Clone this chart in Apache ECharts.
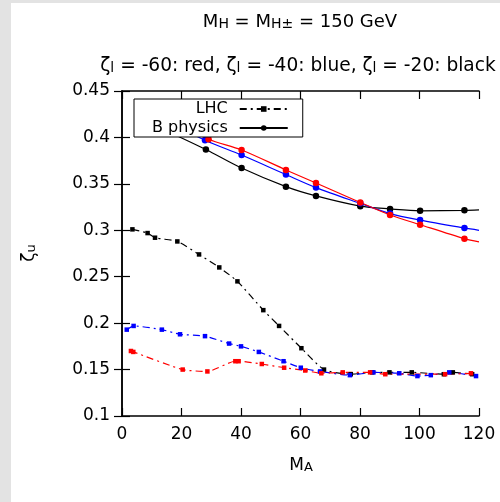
<!DOCTYPE html>
<html>
<head>
<meta charset="utf-8">
<script src="https://cdn.jsdelivr.net/npm/echarts@6/dist/echarts.min.js"></script>
<style>
  html, body { margin: 0; padding: 0; background: #e3e3e3; }
  #sheet { position: absolute; left: 11px; top: 3px; width: 489px; height: 499px; background: #ffffff; }
  #chart { position: absolute; left: 0; top: 0; width: 500px; height: 502px; }
</style>
</head>
<body>
<div id="sheet"></div>
<div id="chart"></div>
<script>
// zeta_u limits versus M_A for M_H = M_H± = 150 GeV

// LHC bounds (dash-dot, squares)
const lhcBlackX = [3.5, 8.6, 11.1, 18.6, 25.9, 32.7, 38.8, 47.5, 52.8, 60.3, 67.9, 76.9, 84.1, 89.9, 97.4, 108.2, 111.2, 117.7];
const lhcBlackY = [0.301, 0.297, 0.292, 0.288, 0.274, 0.260, 0.245, 0.214, 0.197, 0.173, 0.150, 0.145, 0.147, 0.147, 0.147, 0.145, 0.147, 0.145];

const lhcBlueX = [1.6, 3.9, 13.4, 19.5, 27.9, 36.0, 40.0, 46.0, 54.3, 60.1, 66.6, 76.6, 84.5, 93.2, 99.3, 103.8, 110.0, 119.0];
const lhcBlueY = [0.193, 0.197, 0.193, 0.188, 0.186, 0.178, 0.175, 0.169, 0.159, 0.152, 0.148, 0.144, 0.147, 0.146, 0.143, 0.144, 0.147, 0.143];

const lhcRedX = [3.0, 3.8, 20.4, 28.7, 38.1, 39.2, 47.0, 54.5, 61.6, 67.0, 74.2, 83.4, 88.5, 108.6, 117.3];
const lhcRedY = [0.170, 0.169, 0.150, 0.148, 0.159, 0.159, 0.156, 0.152, 0.149, 0.146, 0.147, 0.147, 0.145, 0.145, 0.146];

// B physics bounds (solid, circles); last point at the frame edge carries no marker
const bBlackX = [15, 28.2, 40.2, 55.1, 65.2, 80.1, 90.1, 100.2, 115.1, 120];
const bBlackY = [0.407, 0.387, 0.367, 0.347, 0.337, 0.326, 0.323, 0.321, 0.3215, 0.322];

const bBlueX = [15, 27.9, 40.2, 55.1, 65.2, 80.1, 90.1, 100.2, 115.1, 120];
const bBlueY = [0.418, 0.397, 0.381, 0.360, 0.346, 0.329, 0.318, 0.311, 0.3025, 0.300];

const bRedX = [15, 29.1, 40.2, 55.1, 65.2, 80.1, 90.1, 100.2, 115.1, 120];
const bRedY = [0.420, 0.398, 0.3865, 0.365, 0.351, 0.330, 0.3165, 0.306, 0.291, 0.2875];

const FONT = 'DejaVu Sans';

function pairs(xs, ys, edgeX) {
  return xs.map((x, i) => (x === edgeX)
    ? { value: [x, ys[i]], symbol: 'none' }
    : [x, ys[i]]);
}

function lhcSeries(name, color, xs, ys) {
  return {
    name: name, type: 'line', smooth: 0.2,
    symbol: 'rect', symbolSize: 4.5,
    itemStyle: { color: color },
    lineStyle: { color: color, width: 1.2, type: [7, 4, 2, 4] },
    data: pairs(xs, ys, null)
  };
}

function bSeries(name, color, xs, ys) {
  return {
    name: name, type: 'line', smooth: 0.3,
    symbol: 'circle', symbolSize: 6.5,
    itemStyle: { color: color },
    lineStyle: { color: color, width: 1.2, type: 'solid' },
    data: pairs(xs, ys, 120)
  };
}

const axisLineStyle = { color: '#000', width: 1.5 };
const tickStyle = { show: true, inside: true, length: 8, lineStyle: { color: '#000', width: 1.2 } };
const labelStyle = { color: '#000', fontSize: 17, fontFamily: FONT };

function richStyles(size) {
  return {
    s: { fontSize: Math.round(size * 0.76), fontFamily: FONT, lineHeight: 12, verticalAlign: 'bottom', fill: '#000' },
    n: { fontSize: size, fontFamily: FONT, lineHeight: 22, fill: '#000' }
  };
}

const chart = echarts.init(document.getElementById('chart'));
chart.setOption({
  animation: false,
  backgroundColor: 'transparent',
  grid: { left: 122, right: 21, top: 91, bottom: 86, containLabel: false },
  xAxis: [
    { type: 'value', position: 'bottom', min: 0, max: 120, interval: 20,
      axisLine: { show: true, lineStyle: axisLineStyle }, axisTick: tickStyle,
      axisLabel: Object.assign({ margin: 10 }, labelStyle), splitLine: { show: false } },
    { type: 'value', position: 'top', min: 0, max: 120, interval: 20,
      axisLine: { show: true, lineStyle: axisLineStyle }, axisTick: tickStyle,
      axisLabel: { show: false }, splitLine: { show: false } }
  ],
  yAxis: [
    { type: 'value', position: 'left', min: 0.1, max: 0.45, interval: 0.05,
      axisLine: { show: true, lineStyle: axisLineStyle }, axisTick: tickStyle,
      axisLabel: Object.assign({ margin: 12 }, labelStyle), splitLine: { show: false } },
    { type: 'value', position: 'right', min: 0.1, max: 0.45, interval: 0.05,
      axisLine: { show: true, lineStyle: axisLineStyle }, axisTick: tickStyle,
      axisLabel: { show: false }, splitLine: { show: false } }
  ],
  legend: {
    left: 134, top: 99, orient: 'vertical', align: 'right',
    data: ['LHC', 'B physics'],
    itemWidth: 48, itemHeight: 7, itemGap: 1,
    padding: [1, 14, 0, 18],
    backgroundColor: '#fff', borderColor: '#000', borderWidth: 1, borderRadius: 0,
    selectedMode: false,
    textStyle: { fontFamily: FONT, fontSize: 16, color: '#000', lineHeight: 18, padding: [0, 7, 0, 0] }
  },
  graphic: [
    { type: 'text', x: 300, y: 22, style: {
        text: 'M{s|H} = M{s|H±} = 150 GeV', align: 'center', verticalAlign: 'middle',
        fontSize: 18, fontFamily: FONT, fill: '#000', rich: richStyles(18) } },
    { type: 'text', x: 298, y: 66, style: {
        text: 'ζ{s|l} = -60: red, ζ{s|l} = -40: blue, ζ{s|l} = -20: black', align: 'center', verticalAlign: 'middle',
        fontSize: 18.6, fontFamily: FONT, fill: '#000', rich: richStyles(18.6) } },
    { type: 'text', x: 30, y: 253, rotation: Math.PI / 2, style: {
        text: 'ζ{s|u}', align: 'center', verticalAlign: 'middle',
        fontSize: 17, fontFamily: FONT, fill: '#000', rich: richStyles(17) } },
    { type: 'text', x: 301, y: 466, style: {
        text: 'M{s|A}', align: 'center', verticalAlign: 'middle',
        fontSize: 17, fontFamily: FONT, fill: '#000', rich: richStyles(17) } }
  ],
  series: [
    lhcSeries('LHC', '#000000', lhcBlackX, lhcBlackY),
    bSeries('B physics', '#000000', bBlackX, bBlackY),
    lhcSeries('LHC ζl=-40', '#0000ff', lhcBlueX, lhcBlueY),
    lhcSeries('LHC ζl=-60', '#ff0000', lhcRedX, lhcRedY),
    bSeries('B physics ζl=-40', '#0000ff', bBlueX, bBlueY),
    bSeries('B physics ζl=-60', '#ff0000', bRedX, bRedY)
  ]
});
</script>
</body>
</html>
